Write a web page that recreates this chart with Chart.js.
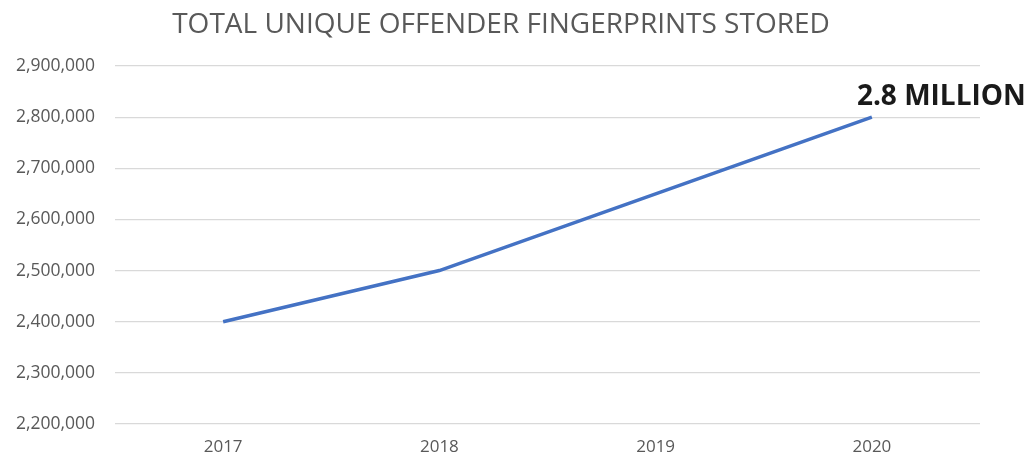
<!DOCTYPE html>
<html>
<head>
<meta charset="utf-8">
<script src="https://cdn.jsdelivr.net/npm/chart.js@4"></script>
<style>
  body { margin: 0; background: #fff; }
  .wrap { width: 1030px; height: 456px; }
</style>
</head>
<body>
<div class="wrap"><canvas id="chart"></canvas></div>
<script>
const years = ["2017", "2018", "2019", "2020"];
const fingerprints = [2400000, 2500000, 2650000, 2800000];
const chartTitle = "TOTAL UNIQUE OFFENDER FINGERPRINTS STORED";
const callout = "2.8 MILLION";

// title centred on the page, and the label next to the last point
const textPlugin = {
  id: "texts",
  afterDatasetsDraw(chart) {
    const ctx = chart.ctx;
    ctx.save();
    ctx.font = "28px 'Open Sans', sans-serif";
    ctx.fillStyle = "#595959";
    ctx.textAlign = "center";
    ctx.textBaseline = "alphabetic";
    ctx.fillText(chartTitle, 501, 33);

    const meta = chart.getDatasetMeta(0);
    const last = meta.data[meta.data.length - 1];
    ctx.font = "bold 28px 'Open Sans', sans-serif";
    ctx.fillStyle = "#1a1a1a";
    ctx.textAlign = "left";
    ctx.fillText(callout, last.x - 15, last.y - 12);
    ctx.restore();
  },
};

const ctx = document.getElementById("chart").getContext("2d");
var chart = new Chart(ctx, {
  type: "line",
  data: {
    labels: years,
    datasets: [
      {
        label: "Fingerprints",
        data: fingerprints,
        borderColor: "#4472c4",
        borderWidth: 3.5,
        pointRadius: 0,
        tension: 0,
      },
    ],
  },
  options: {
    responsive: true,
    maintainAspectRatio: false,
    animation: false,
    layout: { padding: { left: 0, right: 50, top: 66, bottom: 0 } },
    plugins: {
      legend: { display: false },
      tooltip: { enabled: false },
      title: { display: false },
    },
    scales: {
      x: {
        offset: true,
        grid: { display: false, drawTicks: false },
        border: { display: false },
        afterFit(scale) { scale.height = 32; },
        ticks: { color: "#595959", font: { family: "'Open Sans', sans-serif", size: 17 }, padding: 13 },
      },
      y: {
        min: 2200000,
        max: 2900000,
        grid: { color: "#d9d9d9", lineWidth: 1.2, drawTicks: false },
        border: { display: false },
        afterFit(scale) { scale.width = 115; },
        ticks: {
          stepSize: 100000,
          padding: 20,
          color: "#595959",
          font: { family: "'Open Sans', sans-serif", size: 17.5 },
          callback: (v) => v.toLocaleString("en-US"),
        },
      },
    },
  },
  plugins: [textPlugin],
});
</script>
</body>
</html>
